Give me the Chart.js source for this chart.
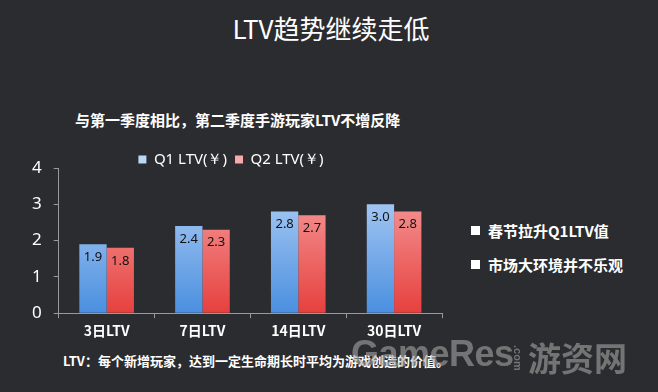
<!DOCTYPE html>
<html>
<head>
<meta charset="utf-8">
<script src="https://cdn.jsdelivr.net/npm/chart.js@4.4.0/dist/chart.umd.min.js"></script>
<style>
  html, body { margin: 0; padding: 0; }
  body {
    width: 658px; height: 392px; overflow: hidden; position: relative;
    background: #2b2c2f;
    font-family: "Noto Sans CJK SC", "Noto Sans", sans-serif;
    color: #fff;
  }
  .txt { position: absolute; white-space: nowrap; }
  #title { left: 0; width: 662px; text-align: center; top: 9px; font-size: 26px; }
  #subtitle { left: 75px; top: 109px; font-size: 15px; font-weight: bold; }
  #note { left: 63px; top: 351px; font-size: 13px; font-weight: bold; }
  .bullet { left: 471px; font-size: 15px; font-weight: bold; }
  .bullet span { display: inline-block; width: 9px; height: 9px; background: #fff; margin-right: 8px; vertical-align: 2px; }
  .wm { color: rgba(165,165,165,0.6); font-weight: bold; }
  #wm1 { left: 351px; top: 333px; font-size: 36px; font-family: "Liberation Sans", sans-serif; letter-spacing: -0.5px; }
  #wm3 { top: 345px; left: 524px; font-size: 11px; font-family: "Liberation Sans", sans-serif; transform: rotate(90deg); transform-origin: left top; }
  #wm2 { left: 528px; top: 333px; font-size: 33px; }
  #box { position: absolute; left: 0; top: 144px; width: 452px; height: 199px; }
</style>
</head>
<body>
<div class="txt" id="title">LTV趋势继续走低</div>
<div class="txt" id="subtitle">与第一季度相比，第二季度手游玩家LTV不增反降</div>
<div class="txt bullet" style="top:220px"><span></span>春节拉升Q1LTV值</div>
<div class="txt bullet" style="top:254px"><span></span>市场大环境并不乐观</div>
<div id="box"><canvas id="chart"></canvas></div>
<div class="txt" id="note">LTV：每个新增玩家，达到一定生命期长时平均为游戏创造的价值。</div>
<div class="txt wm" id="wm1">GameRes</div>
<div class="txt wm" id="wm3">.com</div>
<div class="txt wm" id="wm2">游资网</div>
<script>
// 数据
const categories = ["3日LTV", "7日LTV", "14日LTV", "30日LTV"];
const seriesNames = ["Q1 LTV(￥)", "Q2 LTV(￥)"];
const q1Values = [1.9, 2.4, 2.8, 3.0];
const q2Values = [1.8, 2.3, 2.7, 2.8];
const yTicks = [0, 1, 2, 3, 4];

function barGradient(ctx, top, bottom) {
    const chart = ctx.chart;
    const area = chart.chartArea;
    if (!area) return top;
    const g = chart.ctx.createLinearGradient(0, area.top, 0, area.bottom);
    g.addColorStop(0, top);
    g.addColorStop(1, bottom);
    return g;
}

// 柱内数值标签
const valueLabels = {
    id: "valueLabels",
    afterDatasetsDraw(chart) {
        const ctx = chart.ctx;
        ctx.save();
        ctx.fillStyle = "#111";
        ctx.font = "13px 'Noto Sans', sans-serif";
        ctx.textAlign = "center";
        ctx.textBaseline = "middle";
        chart.data.datasets.forEach((ds, i) => {
            chart.getDatasetMeta(i).data.forEach((bar, j) => {
                ctx.fillText(ds.data[j].toFixed(1), bar.x, bar.y + 13);
            });
        });
        ctx.restore();
    }
};

// 图例与绘图区贴得更近
const legendTight = {
    id: "legendTight",
    beforeInit(chart) {
        const fit = chart.legend.fit;
        chart.legend.fit = function () {
            fit.bind(chart.legend)();
            this.height -= 9;
        };
    }
};

new Chart(document.getElementById("chart"), {
    type: "bar",
    data: {
        labels: categories,
        datasets: [
            {
                label: seriesNames[0],
                data: q1Values,
                backgroundColor: ctx => barGradient(ctx, "#bcd6f8", "#4a8fdf")
            },
            {
                label: seriesNames[1],
                data: q2Values,
                backgroundColor: ctx => barGradient(ctx, "#f8aaaa", "#e6403e")
            }
        ]
    },
    options: {
        responsive: true,
        maintainAspectRatio: false,
        animation: false,
        layout: { padding: { left: 20, right: 10, top: 0, bottom: 0 } },
        datasets: { bar: { barPercentage: 1, categoryPercentage: 0.57 } },
        plugins: {
            legend: {
                position: "top",
                labels: {
                    color: "#fff",
                    boxWidth: 8,
                    boxHeight: 8,
                    padding: 8,
                    font: { size: 15, family: "'Noto Sans', sans-serif" }
                }
            },
            tooltip: { enabled: false }
        },
        scales: {
            x: {
                grid: { drawOnChartArea: false, color: "#9a9a9a", tickLength: 5 },
                border: { color: "#9a9a9a" },
                ticks: { color: "#fff", font: { size: 14, weight: "bold", family: "'Noto Sans CJK SC', sans-serif" }, padding: 4 }
            },
            y: {
                min: 0,
                max: 4,
                afterBuildTicks: axis => { axis.ticks = yTicks.map(v => ({ value: v })); },
                grid: { drawOnChartArea: false, color: "#9a9a9a", tickLength: 5 },
                border: { color: "#9a9a9a" },
                ticks: { color: "#fff", font: { size: 17, family: "'Noto Sans', sans-serif" }, padding: 12 }
            }
        }
    },
    plugins: [valueLabels, legendTight]
});
</script>
</body>
</html>
